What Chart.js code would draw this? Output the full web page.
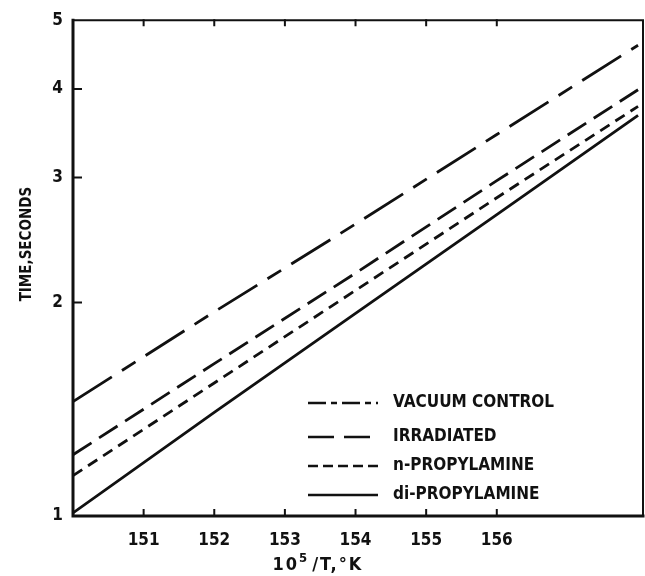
<!DOCTYPE html>
<html>
<head>
<meta charset="utf-8">
<script src="https://cdn.jsdelivr.net/npm/chart.js@4.4.1/dist/chart.umd.min.js"></script>
<style>
  body { margin: 0; background: #fff; }
  canvas { display: block; }
</style>
</head>
<body>
<canvas id="chartTime" width="645" height="576"></canvas>
<script>
// values (x = 10^5/T, y = time in seconds)
const xValues = [150, 152, 154, 156, 158];
const vacuumControl = [1.45, 1.94, 2.58, 3.45, 4.61];
const irradiated = [1.22, 1.64, 2.20, 2.97, 3.99];
const nPropylamine = [1.14, 1.54, 2.08, 2.81, 3.78];
const diPropylamine = [1.01, 1.40, 1.93, 2.66, 3.67];

const seriesLabels = ['VACUUM CONTROL', 'IRRADIATED', 'n-PROPYLAMINE', 'di-PROPYLAMINE'];
const xTickValues = [151, 152, 153, 154, 155, 156];
const yTickValues = [1, 2, 3, 4, 5];

const FONT = "'Liberation Sans Narrow', 'DejaVu Sans Condensed', 'Roboto Condensed', sans-serif";
const INK = '#111';

function toPoints(ys) {
    return xValues.map((x, i) => ({ x: x, y: ys[i] }));
}

// box, inward ticks, axis titles and the legend
const decorPlugin = {
    id: 'decor',
    afterDraw(chart) {
        const ctx = chart.ctx;
        const a = chart.chartArea;
        const xs = chart.scales.x;
        const ys = chart.scales.y;
        ctx.save();
        ctx.strokeStyle = INK;
        ctx.lineCap = 'square';

        // frame
        ctx.lineWidth = 3;
        ctx.beginPath();
        ctx.moveTo(a.left, a.top);
        ctx.lineTo(a.left, a.bottom);
        ctx.lineTo(a.right, a.bottom);
        ctx.stroke();
        ctx.lineWidth = 2;
        ctx.beginPath();
        ctx.moveTo(a.left, a.top);
        ctx.lineTo(a.right, a.top);
        ctx.lineTo(a.right, a.bottom);
        ctx.stroke();

        // inward ticks
        ctx.lineWidth = 2;
        ctx.beginPath();
        xTickValues.forEach(v => {
            const px = xs.getPixelForValue(v);
            ctx.moveTo(px, a.bottom);
            ctx.lineTo(px, a.bottom - 6);
            ctx.moveTo(px, a.top);
            ctx.lineTo(px, a.top + 5);
        });
        yTickValues.slice(1, -1).forEach(v => {
            const py = ys.getPixelForValue(v);
            ctx.moveTo(a.left, py);
            ctx.lineTo(a.left + 8, py);
        });
        ctx.stroke();

        ctx.fillStyle = INK;

        // y title
        ctx.save();
        ctx.translate(27, (a.top + a.bottom) / 2 - 24);
        ctx.rotate(-Math.PI / 2);
        ctx.font = 'bold 15px ' + FONT;
        ctx.textAlign = 'center';
        ctx.textBaseline = 'middle';
        ctx.fillText('TIME,SECONDS', 0, 0);
        ctx.restore();

        // x title: 10^5/T,°K
        ctx.save();
        ctx.textBaseline = 'alphabetic';
        ctx.textAlign = 'left';
        const base = 570;
        let tx = a.left + a.width * 0.35;
        ctx.font = 'bold 18px ' + FONT;
        ctx.letterSpacing = '2px';
        ctx.fillText('10', tx, base);
        tx += ctx.measureText('10').width;
        ctx.font = 'bold 13px ' + FONT;
        ctx.fillText('5', tx, base - 8);
        tx += ctx.measureText('5').width + 3;
        ctx.font = 'bold 18px ' + FONT;
        ctx.fillText('/T,°K', tx, base);
        ctx.restore();

        // legend
        const rows = [113, 79, 50, 21];
        ctx.font = 'bold 17px ' + FONT;
        ctx.textBaseline = 'middle';
        ctx.textAlign = 'left';
        chart.data.datasets.forEach((ds, i) => {
            const ly = a.bottom - rows[i];
            ctx.save();
            ctx.lineWidth = 2.5;
            ctx.lineCap = 'butt';
            ctx.setLineDash(ds.legendDash);
            ctx.beginPath();
            ctx.moveTo(a.left + 235, ly);
            ctx.lineTo(a.left + 305, ly);
            ctx.stroke();
            ctx.restore();
            ctx.fillText(ds.label, a.left + 320, ly);
        });
        ctx.restore();
    }
};

function loadChart() {
    const ctx = document.getElementById('chartTime');

    const styles = [
        { dash: [46, 12, 16, 12], legendDash: [18, 5, 6, 5] },
        { dash: [22, 9], legendDash: [26, 10] },
        { dash: [11, 7], legendDash: [10, 5] },
        { dash: [], legendDash: [] }
    ];
    const series = [vacuumControl, irradiated, nPropylamine, diPropylamine];

    new Chart(ctx, {
        type: 'line',
        data: {
            datasets: series.map((ys, i) => ({
                label: seriesLabels[i],
                data: toPoints(ys),
                borderColor: INK,
                borderWidth: 2.8,
                borderDash: styles[i].dash,
                legendDash: styles[i].legendDash,
                pointRadius: 0,
                fill: false,
                tension: 0
            }))
        },
        options: {
            responsive: false,
            animation: false,
            layout: { padding: { top: 15, right: 2, left: 0, bottom: 0 } },
            plugins: {
                legend: { display: false },
                tooltip: { enabled: false }
            },
            scales: {
                x: {
                    type: 'linear',
                    min: 150,
                    max: 158.07,
                    border: { display: false },
                    grid: { display: false, drawTicks: false },
                    afterBuildTicks: scale => { scale.ticks = xTickValues.map(v => ({ value: v })); },
                    afterFit: scale => { scale.height = 60; },
                    ticks: {
                        padding: 14,
                        color: INK,
                        font: { family: FONT, size: 17, weight: 'bold' },
                        callback: v => String(v)
                    }
                },
                y: {
                    type: 'logarithmic',
                    min: 1,
                    max: 5,
                    border: { display: false },
                    grid: { display: false, drawTicks: false },
                    afterBuildTicks: scale => { scale.ticks = yTickValues.map(v => ({ value: v })); },
                    afterFit: scale => { scale.width = 73; },
                    ticks: {
                        padding: 10,
                        color: INK,
                        font: { family: FONT, size: 17, weight: 'bold' },
                        callback: v => String(v)
                    }
                }
            }
        },
        plugins: [decorPlugin]
    });
}

loadChart();
</script>
</body>
</html>
